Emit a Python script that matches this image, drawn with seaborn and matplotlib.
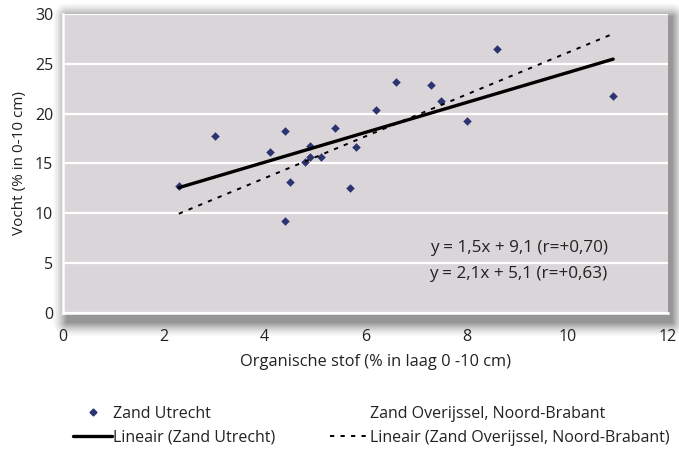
import numpy as np
import pandas as pd
import seaborn as sns
import matplotlib.pyplot as plt
from matplotlib.lines import Line2D

# data
org_stof = [2.30, 3.01, 4.10, 4.40, 4.50, 4.40, 4.80, 4.90, 4.90, 5.11, 5.40, 5.70,
            5.81, 6.20, 6.61, 7.30, 7.50, 8.01, 8.60, 10.91]
vocht = [12.7, 17.75, 16.1, 18.2, 13.1, 9.2, 15.15, 16.75, 15.6, 15.6, 18.5, 12.55,
         16.6, 20.4, 23.2, 22.9, 21.3, 19.2, 26.5, 21.8]
fit_utrecht = (1.5, 9.1)
fit_overijssel = (2.1, 5.1)
eq_labels = ["y = 1,5x + 9,1 (r=+0,70)", "y = 2,1x + 5,1 (r=+0,63)"]
x_ticks = [0, 2, 4, 6, 8, 10, 12]
y_ticks = [0, 5, 10, 15, 20, 25, 30]

df = pd.DataFrame({"x": org_stof, "y": vocht})
xr = np.array([min(org_stof), max(org_stof)])
lines = pd.DataFrame({
    "x": np.concatenate([xr, xr]),
    "y": np.concatenate([fit_utrecht[0] * xr + fit_utrecht[1],
                         fit_overijssel[0] * xr + fit_overijssel[1]]),
    "serie": ["u", "u", "o", "o"],
})

sns.set_theme(style="white")
plt.rcParams["font.family"] = ["Open Sans", "DejaVu Sans"]
plt.rcParams["text.color"] = "#222222"

W, H = 679, 451
fig = plt.figure(figsize=(W / 100, H / 100), dpi=100)
ax = fig.add_axes([0.0925, 0.307, 0.8915, 0.662])
ax.set_facecolor("#d9d5d8")

# soft drop shadow behind the plot area (background axes in pixel units)
pos = ax.get_position()
x0, x1 = pos.x0 * W + 4, pos.x1 * W + 4
y0, y1 = (1 - pos.y1) * H + 3, (1 - pos.y0) * H + 10
gx, gy = np.meshgrid(np.arange(W) + 0.5, np.arange(H) + 0.5)
dx = np.maximum(np.maximum(x0 - gx, gx - x1), 0)
dy = np.maximum(np.maximum(y0 - gy, gy - y1), 0)
alpha = np.clip(1 - np.hypot(dx, dy) / 15, 0, 1) ** 1.5 * 0.6
shadow = np.zeros((H, W, 4))
shadow[..., :3] = 0.32
shadow[..., 3] = alpha
bg = fig.add_axes([0, 0, 1, 1], zorder=-1)
bg.imshow(shadow, extent=(0, W, H, 0), interpolation="bilinear")
bg.set_xlim(0, W)
bg.set_ylim(H, 0)
bg.axis("off")

for yv in y_ticks:
    ax.axhline(yv, color="white", lw=1.6, zorder=1)

sns.scatterplot(data=df, x="x", y="y", marker="D", s=16, color="#2b3470",
                edgecolor="#2b3470", ax=ax, zorder=3, legend=False)
sns.lineplot(data=lines[lines.serie == "u"], x="x", y="y", color="black", lw=2.4,
             ax=ax, zorder=4, legend=False)
sns.lineplot(data=lines[lines.serie == "o"], x="x", y="y", color="black", lw=1.4,
             ax=ax, zorder=4, legend=False)
ax.lines[-1].set_dashes((2.2, 3.2))

ax.text(10.8, 6.5, eq_labels[0], ha="right", va="center", fontsize=12.3, color="#222222")
ax.text(10.8, 3.9, eq_labels[1], ha="right", va="center", fontsize=12.3, color="#222222")

ax.set_xlim(0, 12)
ax.set_ylim(0, 30)
ax.set_xticks(x_ticks)
ax.set_yticks(y_ticks)
ax.tick_params(axis="x", direction="in", length=5, width=1.5, color="white",
               pad=12, labelsize=11.5, labelcolor="#222222")
ax.tick_params(axis="y", length=0, pad=7, labelsize=11.5, labelcolor="#222222")
for side in ["top", "right"]:
    ax.spines[side].set_visible(False)
for side in ["left", "bottom"]:
    ax.spines[side].set_color("white")
    ax.spines[side].set_linewidth(1.8)

ax.set_xlabel("Organische stof (% in laag 0 -10 cm)", fontsize=11.8, color="#222222", labelpad=6)
ax.xaxis.label.set_x(0.516)
ax.set_ylabel("Vocht (% in 0-10 cm)", fontsize=11, color="#222222", labelpad=6)

handles = [
    Line2D([], [], marker="D", ls="none", color="#2b3470", markersize=3.5),
    Line2D([], [], color="black", lw=2.4),
    Line2D([], [], ls="none"),
    Line2D([], [], color="black", lw=1.4, dashes=(2.2, 3.2)),
]
labels = ["Zand Utrecht", "Lineair (Zand Utrecht)",
          "Zand Overijssel, Noord-Brabant", "Lineair (Zand Overijssel, Noord-Brabant)"]
fig.legend(handles, labels, ncol=2, loc="center", bbox_to_anchor=(0.547, 0.0565),
           frameon=False, fontsize=11.5, handlelength=2.4, handletextpad=0.1,
           columnspacing=3.4, labelspacing=0.5, labelcolor="#222222")

fig.savefig("out.png", dpi=100)
